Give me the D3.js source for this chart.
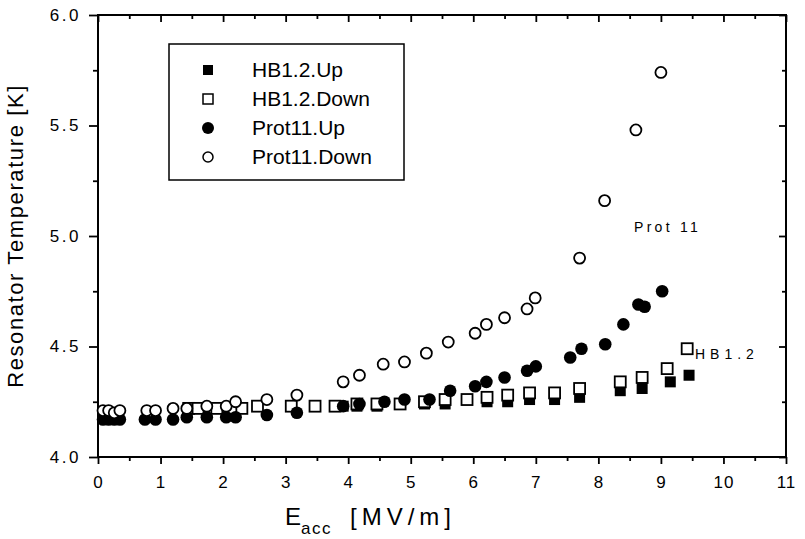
<!DOCTYPE html>
<html>
<head>
<meta charset="utf-8">
<script src="https://cdn.jsdelivr.net/npm/d3@7"></script>
<style>
  body { margin: 0; background: #fff; }
  text { font-family: "Liberation Sans", Arial, sans-serif; fill: #000; }
</style>
</head>
<body>
<script>
const WIDTH = 805
const HEIGHT = 539

// data [E_acc, T]
const hbUp = [[3.92,4.23],[4.14,4.23],[4.46,4.23],[5.22,4.24],[5.55,4.24],[6.22,4.25],[6.55,4.25],[6.9,4.26],[7.3,4.26],[7.7,4.27],[8.35,4.30],[8.7,4.31],[9.15,4.34],[9.45,4.37]]
const hbDown = [[1.45,4.22],[1.6,4.22],[1.9,4.22],[2.3,4.22],[2.55,4.23],[3.09,4.23],[3.47,4.23],[3.79,4.23],[4.14,4.24],[4.46,4.24],[4.83,4.24],[5.22,4.25],[5.55,4.26],[5.9,4.26],[6.22,4.27],[6.55,4.28],[6.9,4.29],[7.3,4.29],[7.7,4.31],[8.35,4.34],[8.7,4.36],[9.1,4.40],[9.42,4.49]]
const protUp = [[0.08,4.17],[0.17,4.17],[0.26,4.17],[0.35,4.17],[0.75,4.17],[0.92,4.17],[1.2,4.17],[1.42,4.18],[1.74,4.18],[2.05,4.18],[2.2,4.18],[2.7,4.19],[3.18,4.20],[3.92,4.23],[4.18,4.24],[4.58,4.25],[4.9,4.26],[5.3,4.26],[5.63,4.30],[6.03,4.32],[6.21,4.34],[6.5,4.36],[6.86,4.39],[7.0,4.41],[7.55,4.45],[7.73,4.49],[8.11,4.51],[8.4,4.60],[8.64,4.69],[8.74,4.68],[9.02,4.75]]
const protDown = [[0.08,4.21],[0.17,4.21],[0.26,4.20],[0.35,4.21],[0.78,4.21],[0.92,4.21],[1.2,4.22],[1.42,4.22],[1.74,4.23],[2.05,4.23],[2.2,4.25],[2.7,4.26],[3.18,4.28],[3.92,4.34],[4.18,4.37],[4.56,4.42],[4.9,4.43],[5.25,4.47],[5.6,4.52],[6.03,4.56],[6.21,4.60],[6.5,4.63],[6.86,4.67],[6.99,4.72],[7.7,4.90],[8.1,5.16],[8.6,5.48],[9.0,5.74]]

const seriesNames = ["HB1.2.Up", "HB1.2.Down", "Prot11.Up", "Prot11.Down"]
const xTicks = d3.range(0, 12)
const yTicks = [4.0, 4.5, 5.0, 5.5, 6.0]

const svg = d3.select("body").append("svg")
    .attr("width", WIDTH)
    .attr("height", HEIGHT)

const X0 = 98, X1 = 786, Y0 = 15, Y1 = 457

const x = d3.scaleLinear().domain([0, 11]).range([X0, X1])
const y = d3.scaleLinear().domain([4, 6]).range([Y1, Y0])

// axes (major + minor ticks)
const minorX = d3.range(0.5, 11, 1)
const minorY = d3.range(4.25, 6, 0.5)

const xAxis = svg.append("g").attr("transform", `translate(0,${Y1})`)
    .call(d3.axisBottom(x).tickValues(xTicks).tickSize(7).tickPadding(12).tickFormat(d3.format("d")))
xAxis.selectAll(".tick text").attr("font-size", 17).attr("letter-spacing", 1)
svg.append("g").attr("transform", `translate(0,${Y1})`)
    .call(d3.axisBottom(x).tickValues(minorX).tickSize(4).tickFormat(""))

const yAxis = svg.append("g").attr("transform", `translate(${X0},0)`)
    .call(d3.axisLeft(y).tickValues(yTicks).tickSize(9).tickPadding(8).tickFormat(d3.format(".1f")))
yAxis.selectAll(".tick text").attr("font-size", 17).attr("letter-spacing", 2.5)
svg.append("g").attr("transform", `translate(${X0},0)`)
    .call(d3.axisLeft(y).tickValues(minorY).tickSize(5).tickFormat(""))

// top / right ticks point inwards
svg.append("g").attr("transform", `translate(0,${Y0})`)
    .call(d3.axisTop(x).tickValues(xTicks).tickSize(-7).tickFormat(""))
svg.append("g").attr("transform", `translate(0,${Y0})`)
    .call(d3.axisTop(x).tickValues(minorX).tickSize(-4).tickFormat(""))
svg.append("g").attr("transform", `translate(${X1},0)`)
    .call(d3.axisRight(y).tickValues(yTicks).tickSize(-7).tickFormat(""))
svg.append("g").attr("transform", `translate(${X1},0)`)
    .call(d3.axisRight(y).tickValues(minorY).tickSize(-4).tickFormat(""))

svg.selectAll(".domain").remove()
svg.selectAll(".tick line").attr("stroke", "#000").attr("stroke-width", 1.8)

svg.append("rect")
    .attr("x", X0).attr("y", Y0)
    .attr("width", X1 - X0).attr("height", Y1 - Y0)
    .attr("fill", "none").attr("stroke", "#000").attr("stroke-width", 2)

// axis titles
svg.append("text")
    .attr("transform", `translate(23,${(Y0 + Y1) / 2}) rotate(-90)`)
    .attr("text-anchor", "middle")
    .attr("font-size", 22)
    .attr("letter-spacing", 1.6)
    .text("Resonator Temperature [K]")

const xt = svg.append("text").attr("x", 285).attr("y", 525).attr("font-size", 24)
xt.append("tspan").text("E")
xt.append("tspan").attr("font-size", 17).attr("dy", 9).attr("letter-spacing", 1.5).text("acc")
xt.append("tspan").attr("x", 350).attr("dy", -9).attr("letter-spacing", 5).text("[MV/m]")

// markers
function drawSquares(data, filled) {
    svg.append("g").selectAll("rect")
        .data(data).enter().append("rect")
        .attr("x", d => x(d[0]) - 5.5)
        .attr("y", d => y(d[1]) - 5.5)
        .attr("width", 11).attr("height", 11)
        .attr("fill", filled ? "#000" : "#fff")
        .attr("stroke", "#000").attr("stroke-width", filled ? 0 : 1.8)
}
function drawCircles(data, filled) {
    svg.append("g").selectAll("circle")
        .data(data).enter().append("circle")
        .attr("cx", d => x(d[0]))
        .attr("cy", d => y(d[1]))
        .attr("r", filled ? 6.3 : 5.5)
        .attr("fill", filled ? "#000" : "#fff")
        .attr("stroke", "#000").attr("stroke-width", filled ? 0 : 1.8)
}
drawSquares(hbUp, true)
drawSquares(hbDown, false)
drawCircles(protUp, true)
drawCircles(protDown, false)

// annotations
svg.append("text").attr("x", 634).attr("y", 232).attr("font-size", 14).attr("letter-spacing", 3.3).text("Prot 11")
svg.append("text").attr("x", 695).attr("y", 359).attr("font-size", 14).attr("letter-spacing", 5).text("HB1.2")

// legend
const lg = svg.append("g")
lg.append("rect").attr("x", 169).attr("y", 44).attr("width", 235).attr("height", 136)
    .attr("fill", "#fff").attr("stroke", "#000").attr("stroke-width", 1.5)
const rows = lg.selectAll("g.row").data(seriesNames).enter().append("g")
    .attr("transform", (d, i) => `translate(208,${70 + i * 29})`)
rows.each(function(d, i) {
    const g = d3.select(this)
    if (i < 2) {
        g.append("rect").attr("x", -5).attr("y", -5).attr("width", 10).attr("height", 10)
            .attr("fill", i === 0 ? "#000" : "#fff").attr("stroke", "#000").attr("stroke-width", i === 0 ? 0 : 1.5)
    } else {
        g.append("circle").attr("r", i === 2 ? 6 : 5)
            .attr("fill", i === 2 ? "#000" : "#fff").attr("stroke", "#000").attr("stroke-width", i === 2 ? 0 : 1.5)
    }
    g.append("text").attr("x", 44).attr("y", 7).attr("font-size", 21).text(d)
})
</script>
</body>
</html>
